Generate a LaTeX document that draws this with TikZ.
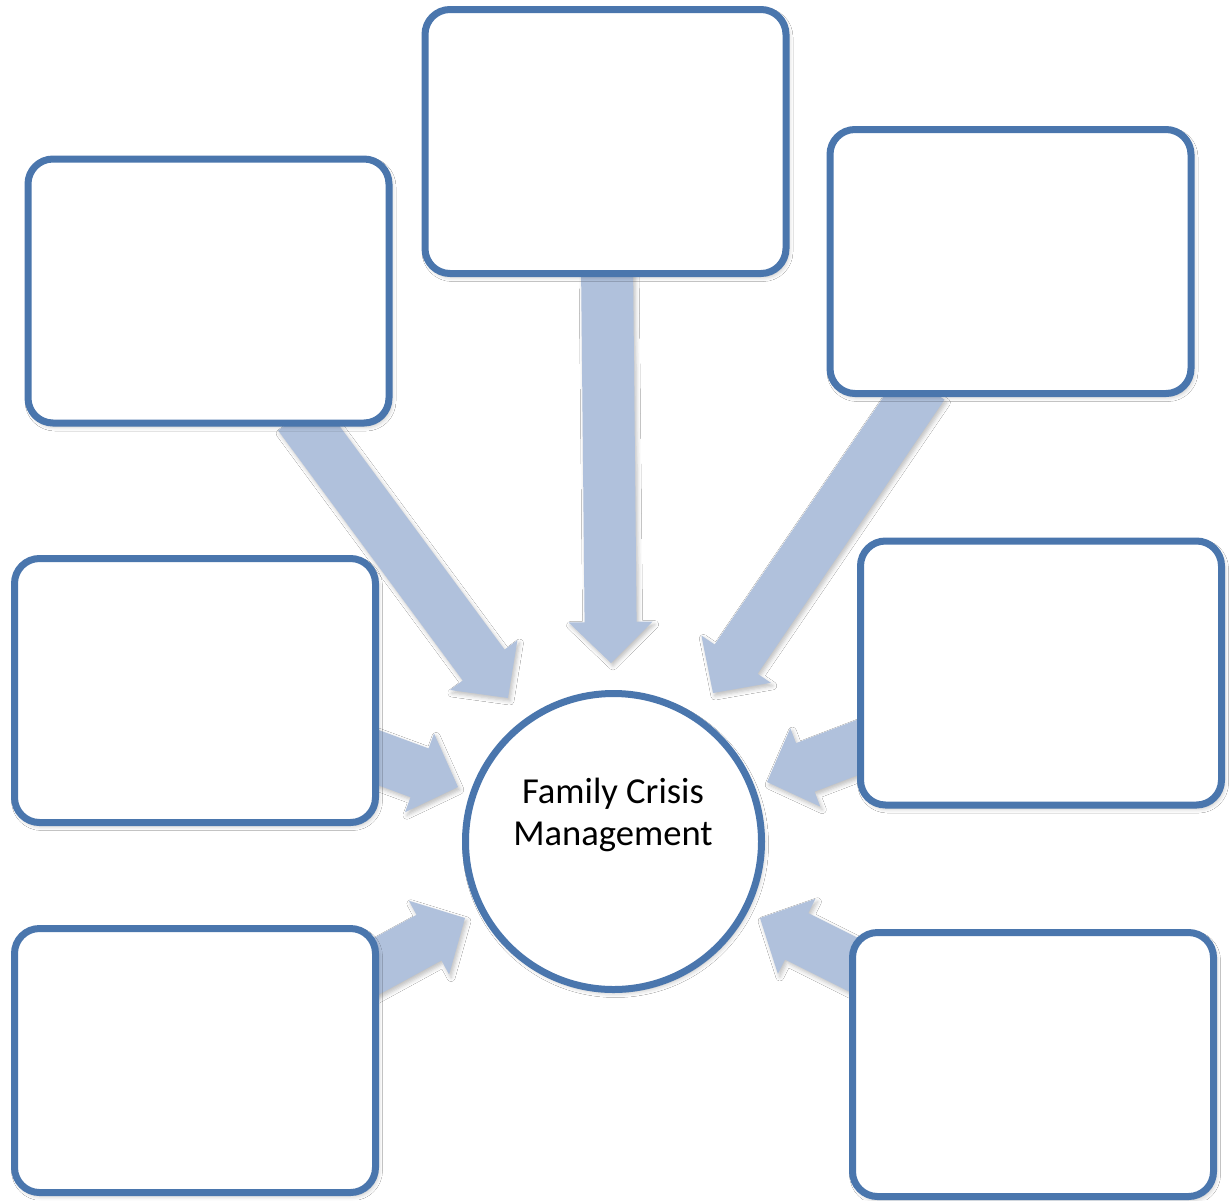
\documentclass[tikz,border=0pt]{standalone}
\usepackage{fontspec}
\setmainfont{Carlito}
\usetikzlibrary{calc,shadows.blur}
\definecolor{boxline}{HTML}{4A76AD}
\definecolor{arrowfill}{HTML}{B0C1DC}
\tikzset{
  tbox/.style={rectangle, rounded corners=12.5pt, draw=boxline, line width=3.5pt,
    fill=white, minimum width=180.5pt, minimum height=132pt, inner sep=0pt,
    blur shadow={shadow xshift=1pt, shadow yshift=-1.5pt, shadow blur radius=2.5pt, shadow opacity=30}},
  hub/.style={circle, draw=boxline, line width=3.5pt, fill=white, minimum size=148pt, inner sep=0pt,
    blur shadow={shadow xshift=1pt, shadow yshift=-1.5pt, shadow blur radius=2.5pt, shadow opacity=30}},
  hubtext/.style={anchor=base, inner sep=0pt, font=\fontsize{18.3}{21}\selectfont},
  arrowbody/.style={fill=arrowfill,
    blur shadow={shadow xshift=1pt, shadow yshift=-1.5pt, shadow blur radius=2pt, shadow opacity=25}}
}
\newcommand{\blockarr}[2]{%
  \coordinate (#1-n) at ($(#2)!20.5pt!(#1)$);
  \path[arrowbody] ($(#1)!13pt!90:(#2)$) -- ($(#1-n)!13pt!-90:(#1)$) -- ($(#1-n)!21pt!-90:(#1)$)
    -- (#2) -- ($(#1-n)!21pt!90:(#1)$) -- ($(#1-n)!13pt!90:(#1)$) -- ($(#1)!13pt!-90:(#2)$) -- cycle;
}
\begin{document}
\begin{tikzpicture}[x=0.5pt,y=-0.5pt]
\fill[white] (0,0) rectangle (1231,1200);
\useasboundingbox (0,0) rectangle (1231,1200);
% arrow start and tip coordinates
\coordinate (sT) at (607,262);  \coordinate (pT) at (611,663);
\coordinate (sTL) at (299,415); \coordinate (pTL) at (508,698);
\coordinate (sTR) at (923,385); \coordinate (pTR) at (713,693);
\coordinate (sML) at (355,749); \coordinate (pML) at (458,787);
\coordinate (sMR) at (877,740); \coordinate (pMR) at (767,782);
\coordinate (sBL) at (355,978); \coordinate (pBL) at (465,918);
\coordinate (sBR) at (872,974); \coordinate (pBR) at (760,918);
% arrows
\blockarr{sT}{pT}
\blockarr{sTL}{pTL}
\blockarr{sTR}{pTR}
\blockarr{sML}{pML}
\blockarr{sMR}{pMR}
\blockarr{sBL}{pBL}
\blockarr{sBR}{pBR}
% boxes
\node[tbox] (bT)  at (605.5,141.5) {};
\node[tbox] (bTL) at (208.5,291) {};
\node[tbox] (bTR) at (1010.5,261.5) {};
\node[tbox] (bML) at (195,690.5) {};
\node[tbox] (bMR) at (1041,673) {};
\node[tbox] (bBL) at (195,1060.5) {};
\node[tbox] (bBR) at (1033,1064.5) {};
% hub
\node[hub] (hub) at (613.5,841.5) {};
\node[hubtext] (t1) at (613,803) {Family Crisis};
\node[hubtext] (t2) at (613,845) {Management};
\end{tikzpicture}
\end{document}
